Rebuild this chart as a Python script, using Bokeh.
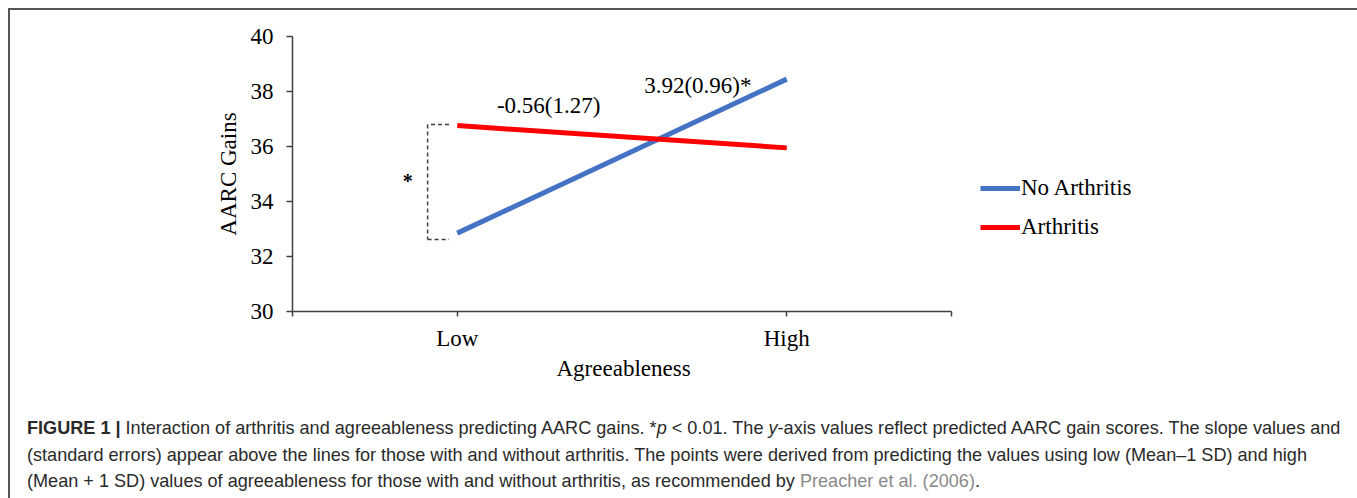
from bokeh.plotting import figure
from bokeh.models import Range1d, FixedTicker, Legend, LegendItem, Label, Div, Title
from bokeh.layouts import column
from bokeh.embed import file_html
from bokeh.resources import INLINE
from bokeh.core.properties import value

# ---- data ----
categories = ["Low", "High"]
cat_pos = [1, 3]
no_arthritis = [32.85, 38.45]
arthritis = [36.76, 35.95]
slope_no_arthritis = "3.92(0.96)*"
slope_arthritis = "-0.56(1.27)"
y_ticks = [30, 32, 34, 36, 38, 40]

SERIF = "'Liberation Serif', 'Times New Roman', serif"
SANS = "'Liberation Sans', Arial, sans-serif"
FS = "23px"

W = 1345
AXIS_PX = 659          # pixel length of the drawn x axis (0..4)
FRAME_PX = 908         # frame extends to the right to hold the legend
x_end = 4 * FRAME_PX / AXIS_PX

p = figure(width=W, height=395, output_backend="svg", toolbar_location=None,
           x_range=Range1d(0, x_end), y_range=Range1d(30, 40),
           min_border_left=282, min_border_right=W - 282 - FRAME_PX,
           min_border_top=26, min_border_bottom=94)
p.grid.visible = False
p.outline_line_color = None
p.background_fill_color = "white"
p.border_fill_color = "white"

axis_color = "#404040"
for ax in (p.xaxis[0], p.yaxis[0]):
    ax.axis_line_color = axis_color
    ax.axis_line_width = 1.5
    ax.major_tick_line_color = axis_color
    ax.major_tick_line_width = 1.5
    ax.minor_tick_line_color = None
    ax.major_tick_in = 0
    ax.major_label_text_font = SERIF
    ax.major_label_text_font_size = FS
    ax.major_label_text_color = "black"
    ax.axis_label_text_font = SERIF
    ax.axis_label_text_font_size = FS
    ax.axis_label_text_font_style = "normal"
    ax.axis_label_text_color = "black"

p.yaxis.ticker = FixedTicker(ticks=y_ticks)
p.yaxis.major_tick_out = 6
p.yaxis.major_label_standoff = 13
p.yaxis.axis_label = "AARC Gains"
p.yaxis.axis_label_standoff = 7

p.xaxis.bounds = (0, 4)
p.xaxis.ticker = FixedTicker(ticks=[0] + cat_pos + [4])
p.xaxis.major_label_overrides = {0: "", 1: categories[0], 3: categories[1], 4: ""}
p.xaxis.major_tick_out = 5
p.xaxis.major_label_standoff = 9

# x-axis title, placed under the middle of the drawn (bounded) axis rather than the wider frame
xtitle = Title(text="Agreeableness", align="left", offset=264,
               text_font=SERIF, text_font_size=FS, text_font_style="normal",
               text_color="black", standoff=0)
p.add_layout(xtitle, "below")

r_no = p.line(cat_pos, no_arthritis, line_color="#4472C4", line_width=5)
r_ar = p.line(cat_pos, arthritis, line_color="#FF0000", line_width=5)

# significance bracket
bx0, bx1 = 0.82, 0.95
btop, bbot = 36.8, 32.62
p.segment(x0=[bx1, bx0, bx0], y0=[btop, btop, bbot], x1=[bx0, bx0, bx1], y1=[btop, bbot, bbot],
          line_color="#404040", line_width=1.5, line_dash="4 3")
p.text(x=[0.70], y=[34.75], text=["*"], text_font=value(SERIF), text_font_size="20px",
       text_align="center", text_baseline="middle", text_font_style="bold", text_color="black")

p.add_layout(Label(x=1.555, y=37.49, text=slope_arthritis, text_font=SERIF, text_font_size=FS,
                   text_align="center", text_baseline="middle", text_color="black"))
p.add_layout(Label(x=2.46, y=38.22, text=slope_no_arthritis, text_font=SERIF, text_font_size=FS,
                   text_align="center", text_baseline="middle", text_color="black"))

legend = Legend(items=[LegendItem(label="No Arthritis", renderers=[r_no]),
                       LegendItem(label="Arthritis", renderers=[r_ar])],
                location=(688, 71.5), orientation="vertical",
                glyph_width=40, glyph_height=20, label_height=20, label_standoff=1,
                spacing=13, padding=0, margin=0,
                border_line_color=None, background_fill_alpha=0,
                label_text_font=SERIF, label_text_font_size=FS, label_text_color="black")
p.add_layout(legend)

caption_html = (
    f'<div style="font-family:{SANS}; font-size:18.1px; line-height:26.5px; color:#2a2a2a; '
    'white-space:nowrap; padding:5px 0 0 12px;">'
    '<b>FIGURE 1 |</b> Interaction of arthritis and agreeableness predicting AARC gains. '
    '*<i>p</i> &lt; 0.01. The <i>y</i>-axis values reflect predicted AARC gain scores. The slope values and<br>'
    '(standard errors) appear above the lines for those with and without arthritis. The points were derived '
    'from predicting the values using low (Mean&#8211;1 SD) and high<br>'
    '(Mean + 1 SD) values of agreeableness for those with and without arthritis, as recommended by '
    '<span style="color:#8a8a8a;">Preacher et al. (2006)</span>.'
    '</div>'
)
cap = Div(text=caption_html, width=W, height=95)

layout = column(p, cap, spacing=0,
                styles={"border": "2px solid #555", "background": "white", "margin": "8px 0 0 8px"})

open("out.html", "w").write(file_html(layout, INLINE))
